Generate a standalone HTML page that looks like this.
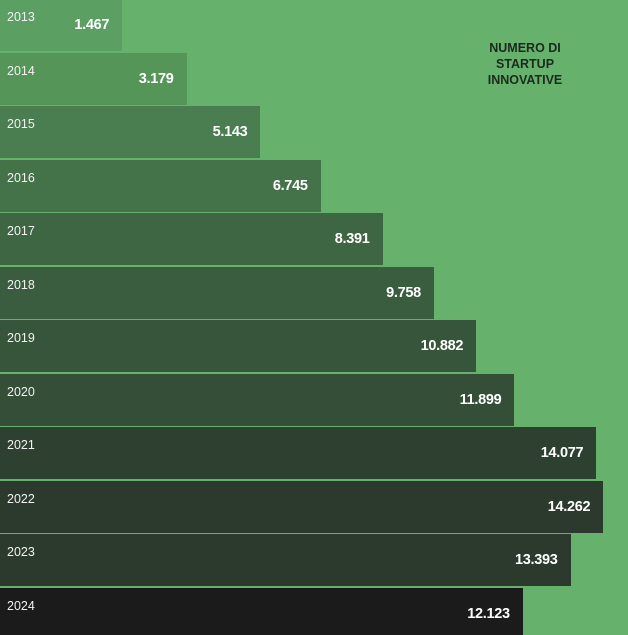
<!DOCTYPE html>
<html><head><meta charset="utf-8"><style>
html,body{margin:0;padding:0;background:#66b26d;}
#chart{position:relative;width:628px;height:635px;overflow:hidden;background:#66b26d;font-family:"Liberation Sans",sans-serif;}
.bar{position:absolute;left:0;}
.yr{position:absolute;left:7px;color:#f2f2f2;font-size:12.5px;}
.val{position:absolute;color:#fff;font-size:14.5px;font-weight:bold;text-align:right;letter-spacing:-0.3px;}
#title{position:absolute;left:468px;top:40px;width:114px;text-align:center;font-size:12.5px;font-weight:bold;color:#1c2a1e;line-height:16px;}
</style></head><body>
<div id="chart">
<div id="title">NUMERO DI<br>STARTUP<br>INNOVATIVE</div>
</div>
<script>
const years = ["2013","2014","2015","2016","2017","2018","2019","2020","2021","2022","2023","2024"];
const values = [1467,3179,5143,6745,8391,9758,10882,11899,14077,14262,13393,12123];
const valueLabels = ["1.467","3.179","5.143","6.745","8.391","9.758","10.882","11.899","14.077","14.262","13.393","12.123"];
const colors = ["#5ba062","#559558","#4a7e50","#447249","#3f6643","#3b5d3f","#37553b","#344e37","#2e4130","#2c3a2e","#2c3a2e","#1b1b1b"];
const chart = document.getElementById('chart');
const pitch = 53.5, barH = 52, y0 = -1;
function xScale(v){ return 67 + 0.0376 * v; }
function yScale(i){ return y0 + i * pitch; }
years.forEach((yr, i) => {
  const w = xScale(values[i]);
  const top = yScale(i);
  const bar = document.createElement('div');
  bar.className = 'bar';
  
  
  bar.style.top = top + 'px';
  bar.style.width = w + 'px';
  bar.style.height = (i === years.length - 1 ? 60 : barH) + 'px';
  bar.style.background = colors[i];
  chart.appendChild(bar);
  const y = document.createElement('div');
  y.className = 'yr';
  
  
  y.style.top = (top + 11) + 'px';
  y.textContent = yr;
  chart.appendChild(y);
  const v = document.createElement('div');
  v.className = 'val';
  
  
  v.style.top = (top + 18) + 'px';
  v.style.left = (w - 113) + 'px';
  v.style.width = '100px';
  v.textContent = valueLabels[i];
  chart.appendChild(v);
});
</script>
</body></html>
